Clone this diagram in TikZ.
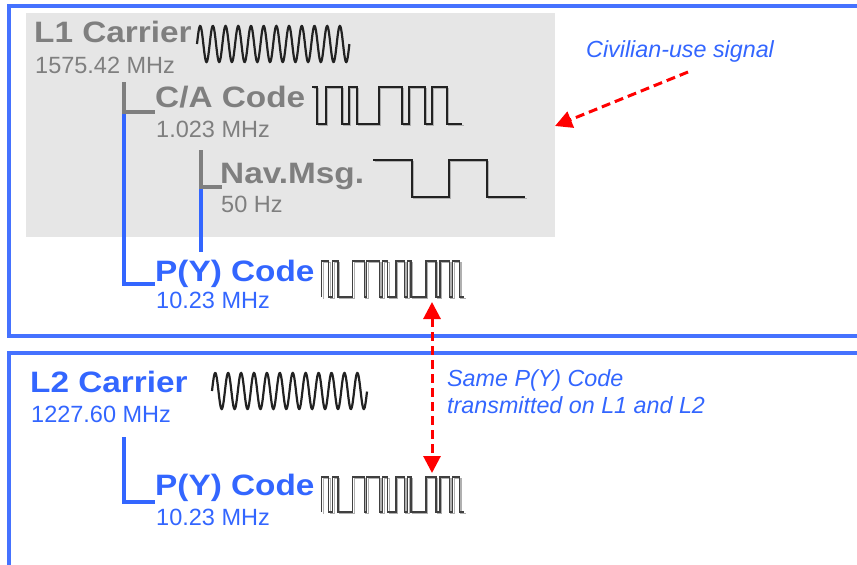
\documentclass[tikz,border=0pt]{standalone}
\usepackage{fontspec}
\setmainfont{Liberation Sans}
\newfontfamily\hfont[FakeStretch=1.13]{Liberation Sans}
\usetikzlibrary{arrows.meta}
\definecolor{tgray}{HTML}{7F7F7F}
\definecolor{tblue}{HTML}{3366FF}
\definecolor{fblue}{HTML}{4572FF}
\definecolor{bgray}{HTML}{E6E6E6}
\definecolor{wavec}{HTML}{222222}
\definecolor{shad}{HTML}{B0B0B0}
\tikzset{
  head/.style={inner sep=0pt, anchor=base west, font=\hfont\bfseries\fontsize{29.5}{32}\selectfont},
  freq/.style={inner sep=0pt, anchor=base west, font=\fontsize{23.5}{26}\selectfont},
  note/.style={inner sep=0pt, anchor=base west, text=tblue, font=\itshape\fontsize{23.3}{28}\selectfont},
  frame/.style={draw=fblue, line width=3.4pt},
  glink/.style={draw=tgray, line width=3.4pt},
  blink/.style={draw=tblue, line width=3.4pt},
  wave/.style={draw=wavec, line width=1.6pt, line join=miter},
  wshadow/.style={draw=shad, line width=1.6pt},
  redarrow/.style={draw=red, line width=3pt, dash pattern=on 9pt off 5pt, -{Triangle[length=17pt,width=17pt]}},
  redboth/.style={draw=red, line width=3pt, dash pattern=on 9pt off 5pt, {Triangle[length=17pt,width=17pt]}-{Triangle[length=17pt,width=17pt]}}
}
\newcommand\pycode{(321.7,1) -- (321.7,0) -| (328.7,1) -| (332.7,0) -| (338,1) -| (352.7,0) -| (364.3,1) -| (366.7,0) -| (379.3,1) -| (382.7,0) -| (387.7,1) -| (396,0) -| (404.3,1) -| (407.7,0) -| (411,1) -| (426,0) -| (436,1) -| (440,0) -| (449.3,1) -| (452.7,0) -| (459.3,1) -- (464.3,1)}
\begin{document}
\begin{tikzpicture}[x=1pt,y=-1pt]
\useasboundingbox (0,0) rectangle (857,565);
\clip (0,0) rectangle (857,565);
% frames
\draw[frame] (9,6) rectangle (880,336);
\draw[frame] (9,353) rectangle (880,600);
% gray panel
\fill[bgray] (26,13) rectangle (555,237);

% texts
\node[head, text=tgray] (l1) at (34,42) {L1 Carrier};
\node[freq, text=tgray] (l1f) at (35,73) {1575.42 MHz};
\node[head, text=tgray] (ca) at (155,107) {C/A Code};
\node[freq, text=tgray] (caf) at (156,137) {1.023 MHz};
\node[head, text=tgray] (nav) at (220,183) {Nav.Msg.};
\node[freq, text=tgray] (navf) at (221,212) {50 Hz};
\node[head, text=tblue] (py1) at (155,281) {P(Y) Code};
\node[freq, text=tblue] (py1f) at (156,308) {10.23 MHz};
\node[head, text=tblue] (l2) at (30,392) {L2 Carrier};
\node[freq, text=tblue] (l2f) at (31,422) {1227.60 MHz};
\node[head, text=tblue] (py2) at (155,495) {P(Y) Code};
\node[freq, text=tblue] (py2f) at (156,525) {10.23 MHz};
\node[note] (civ) at (586,57) {Civilian-use signal};
\node[note, align=left, anchor=north west] (same) at (447,369) {Same P(Y) Code\\[-0.5pt]transmitted on L1 and L2};

% tree connectors
\coordinate (catop) at (124,82);
\coordinate (cacorner) at (124,112);
\coordinate (caend) at (155,112);
\coordinate (pyend) at (155,284);
\coordinate (pycorner) at (124,284);
\coordinate (navtop) at (201,150);
\coordinate (navcorner) at (201,187);
\coordinate (navend) at (222,187);
\coordinate (navlow) at (201,252);
\draw[blink] (cacorner) -- (pycorner) -- (pyend);
\draw[blink] (navcorner) -- (navlow);
\draw[glink] (catop) -- (cacorner) -- (caend);
\draw[glink] (navtop) -- (navcorner) -- (navend);
\coordinate (l2top) at (124,437);
\coordinate (l2corner) at (124,502);
\coordinate (l2end) at (155,502);
\draw[blink] (l2top) -- (l2corner) -- (l2end);

% carriers
\draw[wave, line width=2.2pt, domain=197:349.4, samples=400, smooth] plot (\x, {44 - 18*sin(28.346*(\x-197))});
\draw[wave, line width=2.2pt, domain=212:367, samples=400, smooth] plot (\x, {391 - 18*sin(27.86*(\x-212))});

% C/A code and Nav msg shadows
\begin{scope}[shift={(1.5,1.5)}]
\draw[wshadow] (312,87) -| (317,124) -| (326,87) -| (342,124) -| (349,87) -| (357,124) -| (379,87) -| (402,124) -| (409,87) -| (425,124) -| (432,87) -| (447,124) -- (462,124);
\draw[wshadow] (373,160) -| (412,197) -| (449,160) -| (487,197) -- (525,197);
\end{scope}
\draw[wave] (312,87) -| (317,124) -| (326,87) -| (342,124) -| (349,87) -| (357,124) -| (379,87) -| (402,124) -| (409,87) -| (425,124) -| (432,87) -| (447,124) -- (462,124);
\draw[wave] (373,160) -| (412,197) -| (449,160) -| (487,197) -- (525,197);

% P(Y) codes
\begin{scope}[shift={(1.5,262.5)}, yscale=36]
\draw[wshadow, line width=1.4pt] \pycode;
\end{scope}
\begin{scope}[shift={(0,261)}, yscale=36]
\draw[wave, line width=1.2pt, draw=black!75] \pycode;
\end{scope}
\begin{scope}[shift={(1.5,478.5)}, yscale=35]
\draw[wshadow, line width=1.4pt] \pycode;
\end{scope}
\begin{scope}[shift={(0,477)}, yscale=35]
\draw[wave, line width=1.2pt, draw=black!75] \pycode;
\end{scope}

% red arrows
\coordinate (civfrom) at (688,72);
\coordinate (civto) at (555,126);
\draw[redarrow] (civfrom) -- (civto);
\coordinate (pytop) at (432,302);
\coordinate (pybot) at (432,473);
\draw[redboth] (pytop) -- (pybot);
\end{tikzpicture}
\end{document}
